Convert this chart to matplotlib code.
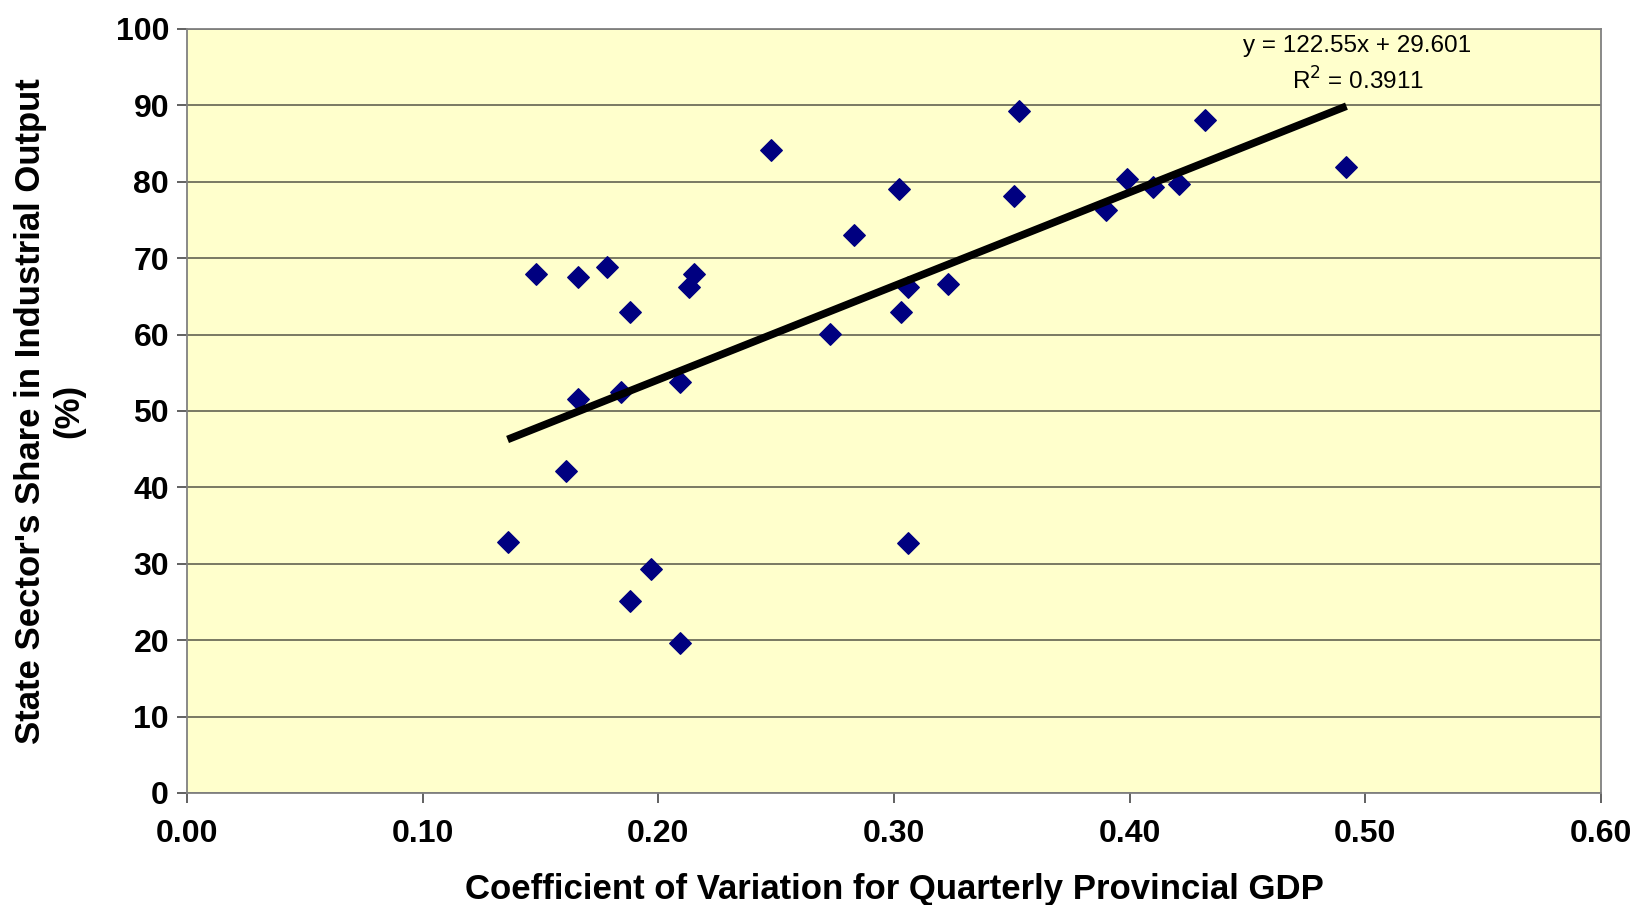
import matplotlib.pyplot as plt
import numpy as np

plt.rcParams['font.family'] = ['Liberation Sans', 'DejaVu Sans']

# coefficient of variation of quarterly provincial GDP
cv = [0.136, 0.148, 0.166, 0.178, 0.188, 0.166, 0.184, 0.161, 0.209, 0.213,
      0.215, 0.197, 0.188, 0.209, 0.248, 0.273, 0.283, 0.302, 0.303, 0.306,
      0.306, 0.323, 0.351, 0.353, 0.390, 0.399, 0.410, 0.421, 0.432, 0.492]
# state sector share in industrial output (%)
state_share = [32.9, 67.9, 67.5, 68.8, 62.9, 51.6, 52.5, 42.1, 53.8, 66.2,
               67.9, 29.3, 25.1, 19.6, 84.2, 60.1, 73.0, 79.0, 62.9, 66.2,
               32.7, 66.6, 78.2, 89.2, 76.3, 80.4, 79.3, 79.7, 88.1, 81.9]

slope = 122.55
intercept = 29.601
r_squared = 0.3911

x_ticks = [0.0, 0.1, 0.2, 0.3, 0.4, 0.5, 0.6]
y_ticks = list(range(0, 101, 10))

fig = plt.figure(figsize=(16.41, 9.05), dpi=100)
ax = fig.add_axes([0.114, 0.1238, 0.8616, 0.8442])
ax.set_facecolor('#FFFFCC')

ax.scatter(cv, state_share, marker='D', s=120, color='#000080', zorder=3)

# excel linear trendline
xs = np.array([min(cv), max(cv)])
ax.plot(xs, slope * xs + intercept, color='black', lw=5.5, zorder=4,
        solid_capstyle='butt')

ax.text(0.4967, 97.8, f"y = {slope}x + {intercept}", ha='center', va='center',
        fontsize=17.5)
ax.text(0.4967, 93.2, f"R$^2$ = {r_squared}", ha='center', va='center',
        fontsize=17.5)

ax.set_xlim(0, 0.6)
ax.set_ylim(0, 100)
ax.set_xticks(x_ticks)
ax.set_xticklabels([f"{t:.2f}" for t in x_ticks])
ax.set_yticks(y_ticks)
ax.yaxis.grid(True, color='#6E6E5A', lw=1.3)
ax.set_axisbelow(True)

for s in ax.spines.values():
    s.set_color('#808080')
    s.set_linewidth(1.3)

ax.tick_params(axis='both', direction='out', length=7, width=1.3,
               color='#555555', labelsize=23)
ax.tick_params(axis='y', pad=6)
ax.tick_params(axis='x', pad=12)
for lbl in ax.get_xticklabels() + ax.get_yticklabels():
    lbl.set_fontweight('bold')

ax.set_xlabel("Coefficient of Variation for Quarterly Provincial GDP",
              fontsize=25, fontweight='bold', labelpad=17)
ax.set_ylabel("State Sector's Share in Industrial Output\n(%)",
              fontsize=25, fontweight='bold', labelpad=22, multialignment='center')

fig.savefig('out.png', dpi=100)
